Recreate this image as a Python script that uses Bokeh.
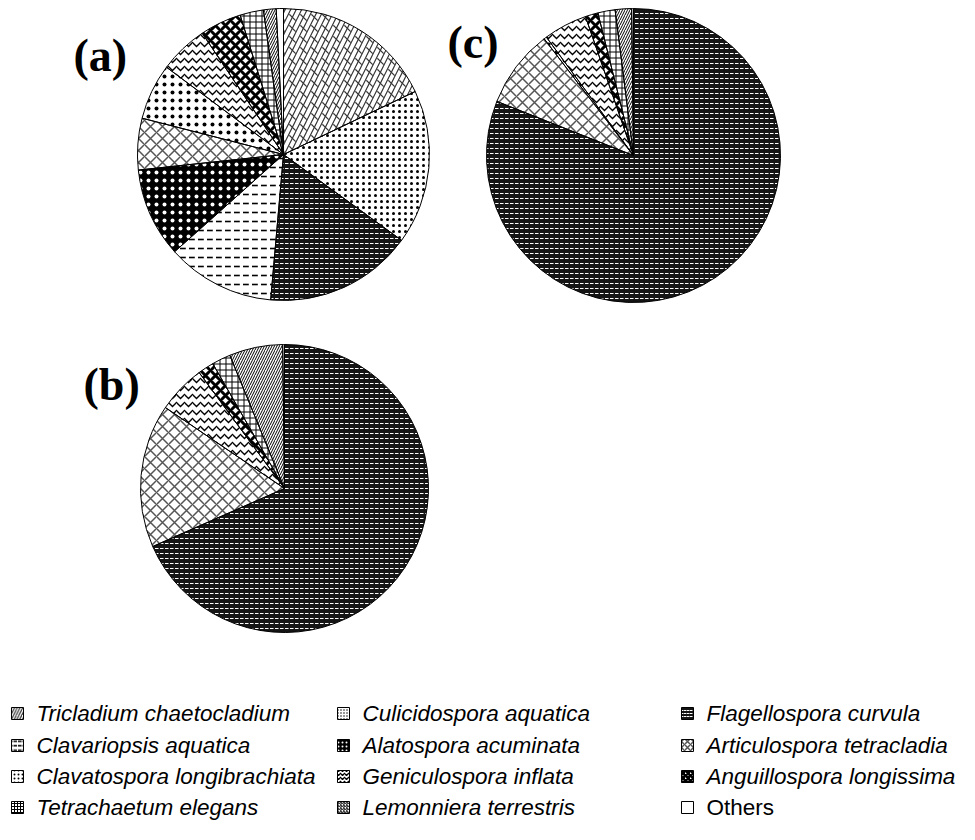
import math
from bokeh.plotting import figure
from bokeh.models import Range1d, ColumnDataSource
from bokeh.core.properties import value
from bokeh.embed import file_html
from bokeh.resources import INLINE

# ---------------- data ----------------
species = ["Tricladium chaetocladium", "Culicidospora aquatica", "Flagellospora curvula",
           "Clavariopsis aquatica", "Alatospora acuminata", "Articulospora tetracladia",
           "Clavatospora longibrachiata", "Geniculospora inflata", "Anguillospora longissima",
           "Tetrachaetum elegans", "Lemonniera terrestris", "Others"]

pct_a = [17.9, 17.1, 16.4, 12.0, 9.9, 5.7, 6.2, 5.4, 4.6, 2.6, 1.4, 0.8]
pct_b = [0.0, 0.0, 68.4, 0.0, 0.0, 16.1, 0.0, 5.4, 1.8, 2.1, 6.0, 0.2]
pct_c = [0.0, 0.0, 81.0, 0.0, 0.0, 8.6, 0.3, 4.8, 1.4, 1.9, 1.8, 0.2]

panel_labels = ["(a)", "(b)", "(c)"]

# ---------------- styles ----------------
# pattern, fill, hatch colour, hatch scale, hatch weight, overlay pattern
styles = [
    ("/", "white", "#333333", 11, 1.2, "`"),
    (".", "white", "black", 6, 2.4, None),
    ('"', "#151515", "white", 5, 1.0, None),
    ('"', "white", "black", 9, 1.6, None),
    (".", "black", "white", 8, 0.9, None),
    ("x", "white", "#555555", 12, 1.5, None),
    (".", "white", "black", 8, 0.8, None),
    ("v", "white", "black", 8, 1.3, None),
    ("x", "white", "black", 10, 3.0, None),
    ("+", "white", "black", 6, 1.0, None),
    ("/", "white", "black", 5, 1.0, None),
    (" ", "white", "black", 12, 1.0, None),
]

W, H = 959, 824
PAGE_H = 840


def py(y):  # page y -> data y
    return PAGE_H - y


p = figure(width=W, height=H, output_backend="svg", toolbar_location=None,
           x_range=Range1d(0, W), y_range=Range1d(PAGE_H - H, PAGE_H),
           min_border=0, outline_line_color=None)
p.axis.visible = False
p.grid.visible = False

pies = [(pct_a, 283, 154, 146), (pct_b, 284, 488, 144), (pct_c, 633, 155, 147)]

for vals, cx, cy, r in pies:
    total = sum(vals)
    cum = 0.0
    d = dict(start=[], end=[], pat=[], fill=[], hc=[], hs=[], hw=[])
    o = dict(start=[], end=[], pat=[], hc=[], hs=[], hw=[])
    for i, v in enumerate(vals):
        if v <= 0:
            continue
        a0 = math.pi / 2 - 2 * math.pi * cum / total
        cum += v
        a1 = math.pi / 2 - 2 * math.pi * cum / total
        pat, fc, hc, hs, hw, ov = styles[i]
        d["start"].append(a1)
        d["end"].append(a0)
        d["pat"].append(pat)
        d["fill"].append(fc)
        d["hc"].append(hc)
        d["hs"].append(hs)
        d["hw"].append(hw)
        if ov:
            o["start"].append(a1)
            o["end"].append(a0)
            o["pat"].append(ov)
            o["hc"].append(hc)
            o["hs"].append(hs)
            o["hw"].append(hw)
    p.wedge(x=cx, y=py(cy), radius=r, start_angle="start", end_angle="end",
            direction="anticlock", source=ColumnDataSource(d), fill_color="fill",
            line_color=None, hatch_pattern="pat", hatch_color="hc", hatch_scale="hs",
            hatch_weight="hw")
    if o["start"]:
        p.wedge(x=cx, y=py(cy), radius=r, start_angle="start", end_angle="end",
                direction="anticlock", source=ColumnDataSource(o), fill_alpha=0,
                line_color=None, hatch_pattern="pat", hatch_color="hc",
                hatch_scale="hs", hatch_weight="hw")
    p.wedge(x=cx, y=py(cy), radius=r, start_angle="start", end_angle="end",
            direction="anticlock", source=ColumnDataSource(d), fill_alpha=0,
            line_color="black", line_width=1)

# panel labels
p.text(x=[73, 83, 447], y=[py(55), py(384), py(42)], text=panel_labels,
       text_font=value("Liberation Serif"), text_font_style="bold",
       text_font_size="46px", text_baseline="alphabetic", text_align="left",
       text_color="black")

# legend
icon_x = [17, 343, 687]
text_x = [36, 362, 706]
row_y = [713, 745, 776, 807]
ld = dict(x=[], y=[], tx=[], lab=[], fs=[], pat=[], fill=[], hc=[], hs=[], hw=[])
for i, name in enumerate(species):
    r_, c_ = divmod(i, 3)
    pat, fc, hc, hs, hw, ov = styles[i]
    ld["x"].append(icon_x[c_])
    ld["y"].append(py(row_y[r_]))
    ld["tx"].append(text_x[c_])
    ld["lab"].append(name)
    ld["fs"].append("normal" if name == "Others" else "italic")
    ld["pat"].append(pat)
    ld["fill"].append(fc)
    ld["hc"].append(hc)
    ld["hs"].append(max(3, hs / 2))
    ld["hw"].append(hw)
lsrc = ColumnDataSource(ld)
p.rect(x="x", y="y", width=12, height=12, source=lsrc, fill_color="fill",
       line_color="black", line_width=1, hatch_pattern="pat", hatch_color="hc",
       hatch_scale="hs", hatch_weight="hw")
p.text(x="tx", y="y", text="lab", source=lsrc, text_font=value("Liberation Sans"),
       text_font_style="fs", text_font_size="22.5px", text_baseline="middle",
       text_align="left", text_color="black")

open("out.html", "w").write(file_html(p, INLINE))
